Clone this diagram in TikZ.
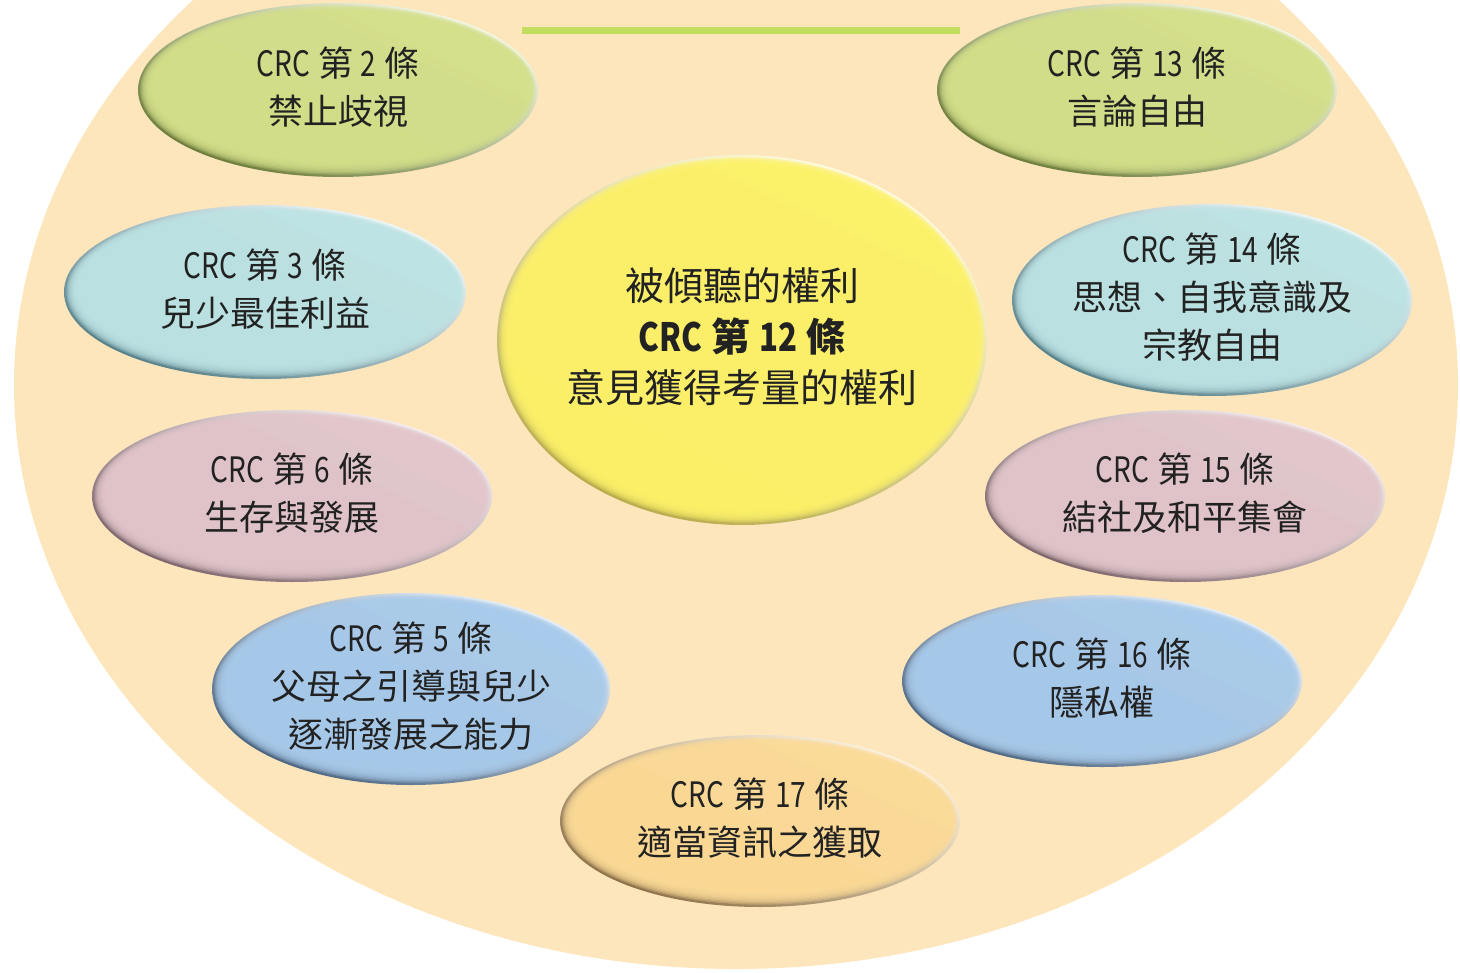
\documentclass[tikz,border=0pt]{standalone}
\usepackage{fontspec}
\setmainfont{Noto Sans CJK TC}
\newfontfamily\cjkf{Noto Sans CJK TC}
\newfontfamily\crcf[FakeStretch=0.8]{Noto Sans CJK TC}
\definecolor{bgc}{HTML}{FDE6BC}
\definecolor{linec}{HTML}{C3DE5F}
\definecolor{txt}{HTML}{222222}
\definecolor{grnB}{HTML}{D4E08A}\definecolor{grnD}{HTML}{6A7A36}\definecolor{grnL}{HTML}{F6FAE8}
\definecolor{cyaB}{HTML}{BDE3E4}\definecolor{cyaD}{HTML}{547F88}\definecolor{cyaL}{HTML}{F3FBFB}
\definecolor{pnkB}{HTML}{E2C6CB}\definecolor{pnkD}{HTML}{7C636A}\definecolor{pnkL}{HTML}{F9F1F2}
\definecolor{bluB}{HTML}{A9CBEB}\definecolor{bluD}{HTML}{4A6480}\definecolor{bluL}{HTML}{EAF3FC}
\definecolor{orgB}{HTML}{FDDB97}\definecolor{orgD}{HTML}{8C7046}\definecolor{orgL}{HTML}{FFF6E4}
\definecolor{yelB}{HTML}{FEF26A}\definecolor{yelD}{HTML}{B8AC4A}\definecolor{yelL}{HTML}{FFFCE2}
\tikzset{
  bubtext/.style={align=center, text=txt, inner sep=0pt,
    font=\cjkf\fontsize{17.5}{24}\selectfont},
  bigtext/.style={align=center, text=txt, inner sep=0pt,
    font=\cjkf\fontsize{19.5}{25.5}\selectfont}
}
\newcommand\crcl[1]{{\crcf CRC} 第 {\crcf #1} 條}
% #1 name, #2 cx, #3 cy, #4 rx, #5 ry, #6 colour prefix, #7 text style, #8 text
\newcommand\bubble[8]{%
  \shade[top color=#6L, bottom color=#6D, shading angle=-25] (#2,#3) ellipse [x radius=#4, y radius=#5];
  \foreach \k in {1,...,12}{%
    \fill[#6B, opacity=0.3] (#2+\k*0.15,#3-\k*0.25) ellipse [x radius={#4-1-\k*1.1}, y radius={#5-1-\k*1.1}];}
  \node[#7] (#1) at (#2,#3-3) {#8};
}
\begin{document}
\begin{tikzpicture}[x=0.5pt, y=-0.5pt]
\useasboundingbox (0,0) rectangle (1460,973);
\begin{scope}
  \clip (0,0) rectangle (1460,973);
  \fill[bgc] (736,385) ellipse [x radius=722, y radius=584];
\end{scope}
\coordinate (la) at (522,30.5);
\coordinate (lb) at (960,30.5);
\draw[linec, line width=3.5pt] (la) -- (lb);

\bubble{n2}{338}{90}{200}{87}{grn}{bubtext}{\crcl{2}\\禁止歧視}
\bubble{n13}{1137}{90}{200}{87}{grn}{bubtext}{\crcl{13}\\言論自由}
\bubble{n3}{265}{292}{201}{87}{cya}{bubtext}{\crcl{3}\\兒少最佳利益}
\bubble{n14}{1212}{300}{200}{96}{cya}{bubtext}{\crcl{14}\\思想、自我意識及\\宗教自由}
\bubble{n6}{292}{496}{200}{86}{pnk}{bubtext}{\crcl{6}\\生存與發展}
\bubble{n15}{1185}{496}{200}{86}{pnk}{bubtext}{\crcl{15}\\結社及和平集會}
\bubble{n5}{411}{689}{199}{96}{blu}{bubtext}{\crcl{5}\\父母之引導與兒少\\逐漸發展之能力}
\bubble{n16}{1102}{681}{200}{86}{blu}{bubtext}{\crcl{16}\\隱私權}
\bubble{n17}{760}{821}{200}{86}{org}{bubtext}{\crcl{17}\\適當資訊之獲取}
\bubble{n12}{742}{340}{245}{185}{yel}{bigtext}{被傾聽的權利\\\textbf{\crcl{12}}\\意見獲得考量的權利}
\end{tikzpicture}
\end{document}
